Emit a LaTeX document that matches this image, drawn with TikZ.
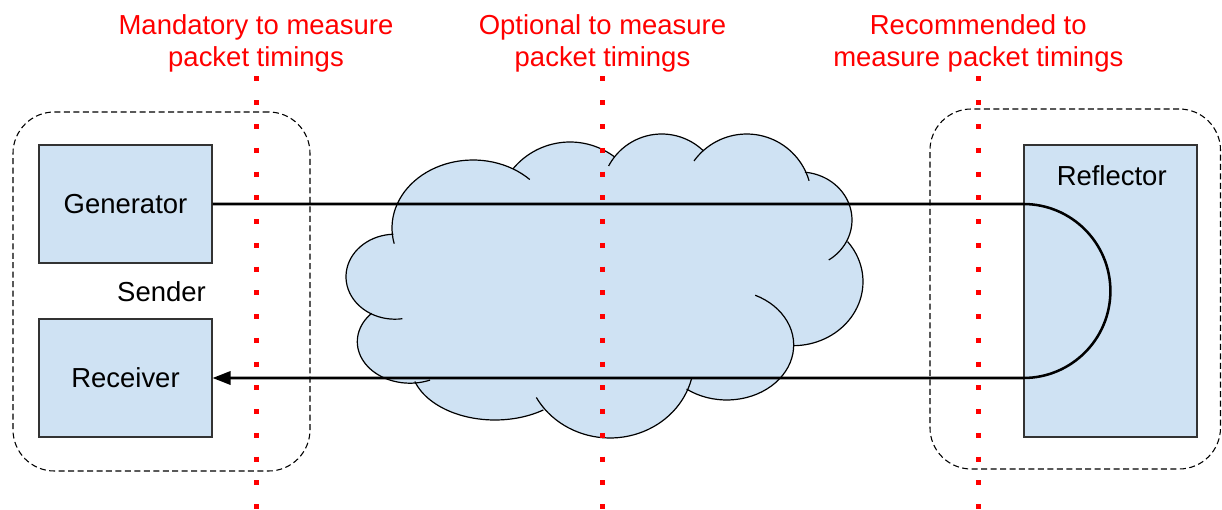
\documentclass[tikz,border=0pt]{standalone}
\usepackage{fontspec}
\setmainfont{Liberation Sans}
\usetikzlibrary{arrows.meta}
\definecolor{boxblue}{HTML}{CFE2F3}
\definecolor{markred}{HTML}{FF0000}
\begin{document}
\begin{tikzpicture}[x=0.75pt,y=-0.75pt,
  every node/.style={font=\fontsize{20.6pt}{24pt}\selectfont, inner sep=0pt},
  unit/.style={draw=black!80, line width=0.9pt, fill=boxblue},
  group/.style={draw=black, line width=0.8pt, dash pattern=on 4.5pt off 2.6pt, rounded corners=31pt},
  marker/.style={draw=markred, line width=3.75pt, dash pattern=on 3.75pt off 14.07pt},
  note/.style={text=markred, align=center},
  flow/.style={line width=1.9pt},
  cloudline/.style={draw=black, line width=0.9pt}]
\useasboundingbox (0,0) rectangle (1222,510);

% dashed groups
\node[group, minimum width=222.75pt, minimum height=269.25pt] (sendergrp) at (161.5,291.5) {};
\node[group, minimum width=217.9pt, minimum height=270pt] (reflgrp) at (1075.25,289) {};

% boxes
\node[unit, minimum width=129.75pt, minimum height=88.5pt] (gen) at (125.5,204) {Generator};
\node[unit, minimum width=129.75pt, minimum height=88.5pt] (rec) at (125.5,378) {Receiver};
\node (sender) at (161.5,291.5) {Sender};
\node[unit, minimum width=129.75pt, minimum height=219pt] (refl) at (1110.5,291) {};
\node (refllabel) at (1111.7,175.5) {Reflector};

% cloud
\fill[boxblue] (371.5,313.5)
  \foreach \cx/\cy/\rx/\ry/\a/\b in {
    395/276.7/49/42.5/118.9/268,
    473/228/81/68/174/300,
    570/216/74/74/219.7/307.2,
    661.7/194/60/60/218.6/313.4,
    746.7/199/65/65/228.5/334.9,
    800/220/52/48/275.5/387.4,
    793/281.7/70/64/-38.8/89.8,
    726.7/345/67/55/0/126.8,
    610/360/84/78/21.5/141.1,
    495/365/84/55/54.9/162.5,
    410/341.7/52.7/41.5/84.3/223.3}
  { -- plot[domain=\a:\b, samples=40, variable=\t] ({\cx+\rx*cos(\t)},{\cy+\ry*sin(\t)}) }
  -- cycle;
\foreach \cx/\cy/\rx/\ry/\a/\b in {
    395/276.7/49/42.5/81.3/268,
    473/228/81/68/166.7/314.5,
    570/216/74/74/219.7/307.2,
    661.7/194/60/60/207.8/313.4,
    746.7/199/65/65/215.8/343.7,
    800/220/52/48/275.5/416.4,
    793/281.7/70/64/-38.8/89.8,
    726.7/345/67/55/-64.8/126.8,
    610/360/84/78/13.6/151.3,
    495/365/84/55/54.9/162.5,
    410/341.7/52.7/41.5/67.6/223.3}
  { \draw[cloudline] plot[domain=\a:\b, samples=40, variable=\t] ({\cx+\rx*cos(\t)},{\cy+\ry*sin(\t)}); }

% packet path
\draw[flow, -{Triangle[length=13.5pt, width=10pt]}] (gen.east) -- (gen.east -| refl.west)
  arc[start angle=90, end angle=-90, radius=65.25pt] -- (rec.east);

% measurement points
\coordinate (m1t) at (256,76.5);   \coordinate (m1b) at (256,510);
\coordinate (m2t) at (602.7,76.5); \coordinate (m2b) at (602.7,510);
\coordinate (m3t) at (978.3,76.5); \coordinate (m3b) at (978.3,510);
\draw[marker] (m1t) -- (m1b);
\draw[marker] (m2t) -- (m2b);
\draw[marker] (m3t) -- (m3b);

\node[note] (n1) at (256,43) {Mandatory to measure\\packet timings};
\node[note] (n2) at (602.5,43) {Optional to measure\\packet timings};
\node[note] (n3) at (978.3,43) {Recommended to\\measure packet timings};
\end{tikzpicture}
\end{document}
